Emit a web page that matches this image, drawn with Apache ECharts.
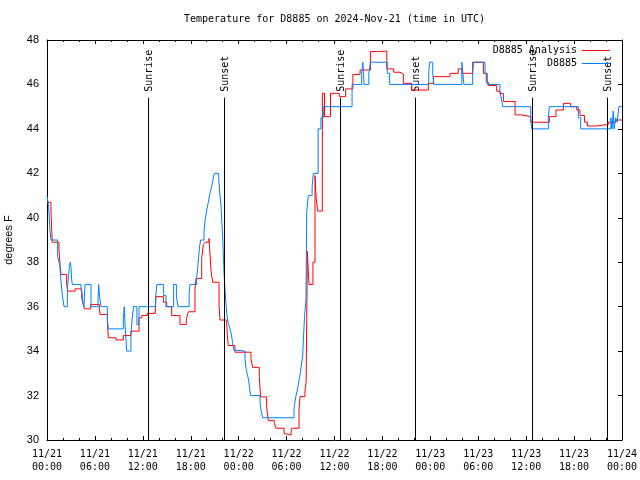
<!DOCTYPE html>
<html><head><meta charset="utf-8">
<script src="https://cdn.jsdelivr.net/npm/echarts@6/dist/echarts.min.js"></script>
<style>html,body{margin:0;padding:0;background:#fff}#c{width:640px;height:480px}</style>
</head><body><div id="c"></div>
<script>
// hours since 2024-11-21 00:00 UTC, temperature degrees F (value holds until next point)
const analysisObs = [[0,40.7],[0.5,40.25],[0.58,39.5],[0.67,38.9],[1.5,38.55],[1.63,37.9],[1.75,37.45],[2.46,37.0],[2.59,36.7],[3.5,36.8],[4.34,36.4],[4.55,36.1],[4.67,35.9],[5.47,36.1],[6.55,35.9],[6.64,35.65],[7.56,35.3],[7.68,34.6],[8.64,34.5],[9.56,34.7],[10.51,34.9],[11.52,35.5],[11.86,35.6],[12.56,35.7],[13.56,35.9],[13.65,36.45],[14.57,36.2],[14.99,36.0],[15.61,35.6],[16.65,35.2],[17.45,35.45],[17.7,35.77],[18.53,36.8],[18.66,37.27],[19.37,38.2],[19.58,38.8],[19.79,38.9],[20.29,39.07],[20.54,37.6],[20.75,37.1],[21.54,36.1],[21.66,35.4],[22.5,35.25],[22.6,34.6],[22.7,34.25],[23.54,33.95],[25.54,33.67],[25.75,33.27],[26.58,32.85],[26.75,31.94],[27.5,31.5],[27.71,30.87],[28.47,30.75],[28.67,30.53],[29.68,30.3],[29.8,30.22],[30.56,30.4],[30.64,30.53],[31.56,31.4],[31.68,31.95],[32.3,32.2],[32.45,32.6],[32.6,38.5],[32.8,37.0],[33.3,38.0],[33.56,41.9],[33.7,40.9],[33.9,40.3],[34.48,45.6],[34.75,44.55],[35.5,45.6],[36.6,45.45],[37.4,45.8],[38.3,46.45],[39.2,46.65],[40.5,47.48],[41.4,47.5],[42.55,46.7],[43.4,46.55],[44.2,46.47],[44.62,46.05],[45.66,45.75],[47.75,46.05],[48.38,46.35],[50.46,46.5],[51.5,46.7],[51.95,46.5],[53.3,47.0],[54.64,46.5],[55.0,46.1],[55.27,45.95],[56.31,45.7],[56.72,45.6],[57.14,45.23],[58.61,44.63],[59.44,44.55],[60.57,44.3],[62.9,44.55],[63.73,44.85],[64.66,45.15],[65.57,45.0],[66.33,44.85],[66.74,44.6],[67.3,44.3],[67.66,44.13],[68.75,44.2],[70.3,44.3],[71.2,44.4],[72,44.4]];

const stationObs = [[0,41.0],[0.21,40.5],[0.37,39.45],[0.5,39.0],[1.33,38.25],[1.5,38.0],[1.63,37.8],[1.71,37.3],[1.84,36.8],[1.96,36.4],[2.13,36.0],[2.55,36.8],[2.71,37.4],[2.8,37.8],[2.92,38.0],[3.0,37.8],[3.09,37.2],[3.17,37.0],[4.26,36.75],[4.38,36.6],[4.51,36.15],[4.63,36.0],[4.76,37.0],[5.51,36.0],[6.39,36.4],[6.47,37.0],[6.6,36.4],[6.76,36.0],[7.56,35.4],[7.68,35.0],[9.56,35.5],[9.68,36.0],[9.76,35.3],[9.89,34.55],[9.97,34.0],[10.51,34.7],[10.64,35.4],[10.85,36.0],[11.26,35.2],[11.52,36.0],[13.6,36.4],[13.75,37.0],[14.6,36.5],[14.9,36.0],[15.85,37.0],[16.2,36.5],[16.4,36.0],[17.8,36.6],[17.9,37.0],[18.74,37.3],[18.85,37.65],[18.99,38.25],[19.1,38.7],[19.24,39.0],[19.66,39.4],[19.8,39.9],[20.0,40.35],[20.2,40.7],[20.4,41.1],[20.55,41.3],[20.7,41.55],[20.83,41.8],[20.95,42.0],[21.5,41.8],[21.6,41.25],[21.79,40.5],[21.9,39.8],[22.0,39.15],[22.08,38.4],[22.15,37.65],[22.29,36.75],[22.4,36.2],[22.5,35.7],[22.7,35.25],[22.92,35.0],[23.1,34.72],[23.25,34.35],[23.4,34.05],[23.54,34.0],[24.79,33.67],[24.92,33.22],[25.1,32.92],[25.25,32.7],[25.34,32.4],[25.5,32.0],[26.67,31.75],[26.8,31.35],[27.0,31.0],[30.93,31.43],[31.18,32.0],[31.35,32.25],[31.6,32.77],[31.75,33.07],[31.85,33.37],[32.01,33.75],[32.1,34.5],[32.25,35.55],[32.43,36.3],[32.52,40.27],[32.72,41.0],[33.2,41.4],[33.35,42.0],[33.95,44.0],[34.3,44.5],[34.6,45.0],[38.2,46.0],[39.4,46.5],[39.55,47.0],[39.7,46.0],[40.3,46.5],[40.5,47.0],[42.6,46.5],[42.9,46.0],[47.8,46.5],[47.9,47.0],[48.3,46.5],[48.45,46.0],[51.95,47.0],[52.2,46.0],[53.3,46.5],[53.4,47.0],[54.85,46.5],[55.14,46.0],[56.72,45.65],[56.93,45.3],[57.06,45.0],[60.57,44.5],[60.69,44.0],[62.78,44.5],[62.9,45.0],[66.53,44.5],[66.83,44.0],[70.6,44.5],[70.75,44.0],[70.9,44.8],[71.0,44.0],[71.2,44.5],[71.4,44.3],[71.6,45.0],[72,45.0]];

const seriesNames = ['D8885 Analysis', 'D8885'];
const xTickLabels = ['11/21\n00:00','11/21\n06:00','11/21\n12:00','11/21\n18:00','11/22\n00:00','11/22\n06:00','11/22\n12:00','11/22\n18:00','11/23\n00:00','11/23\n06:00','11/23\n12:00','11/23\n18:00','11/24\n00:00'];
const sunNames = ['Sunrise','Sunset','Sunrise','Sunset','Sunrise','Sunset'];
const sunHours = [12.66, 22.18, 36.69, 46.1, 60.76, 70.15];
const titleText = 'Temperature for D8885 on 2024-Nov-21 (time in UTC)';

const mono = 'DejaVu Sans Mono';
const sans = 'Liberation Sans';
const lineTopTemp = 45.4;

const chart = echarts.init(document.getElementById('c'), null, {renderer: 'canvas'});
const blk = {color: '#000', width: 1};
const xBase = {
  type: 'value', min: 0, max: 72, interval: 6,
  axisLine: {show: true, onZero: false, lineStyle: blk},
  axisTick: {show: true, inside: true, length: 4, lineStyle: blk},
  minorTick: {show: true, splitNumber: 3, length: 2, lineStyle: blk},
  splitLine: {show: false}, minorSplitLine: {show: false}
};
const yBase = {
  type: 'value', min: 30, max: 48, interval: 2,
  axisLine: {show: true, onZero: false, lineStyle: blk},
  splitLine: {show: false}
};
const option = {
  animation: false,
  backgroundColor: '#fff',
  grid: {left: 47, right: 18, top: 40, bottom: 40, containLabel: false, outerBoundsMode: 'none'},
  legend: {
    orient: 'vertical', right: 25, top: 39, align: 'right',
    icon: 'rect', itemWidth: 28, itemHeight: 1, itemGap: 0,
    textStyle: {fontFamily: mono, fontSize: 10, color: '#000', lineHeight: 13},
    data: seriesNames
  },
  xAxis: [
    Object.assign({}, xBase, {position: 'bottom',
      axisLabel: {formatter: v => xTickLabels[Math.round(v / 6)], fontFamily: mono, fontSize: 10, color: '#000', lineHeight: 13, margin: 8}}),
    Object.assign({}, xBase, {position: 'top', axisLabel: {show: false}})
  ],
  yAxis: [
    Object.assign({}, yBase, {position: 'left',
      name: 'degrees F', nameLocation: 'middle', nameRotate: 90, nameGap: 33,
      nameTextStyle: {fontFamily: sans, fontSize: 11, color: '#000'},
      axisTick: {show: false},
      axisLabel: {fontFamily: sans, fontSize: 11, color: '#000', margin: 8}}),
    Object.assign({}, yBase, {position: 'right',
      axisTick: {show: true, inside: true, length: 4, lineStyle: blk},
      axisLabel: {show: false}})
  ],
  series: [
    {name: seriesNames[0], type: 'line', step: 'end', xAxisIndex: 0, yAxisIndex: 0,
     data: analysisObs, symbol: 'none', lineStyle: {color: '#ff0000', width: 1}, itemStyle: {color: '#ff0000'}, z: 2},
    {name: seriesNames[1], type: 'line', step: 'end', xAxisIndex: 0, yAxisIndex: 0,
     data: stationObs, symbol: 'none', lineStyle: {color: '#0080ff', width: 1}, itemStyle: {color: '#0080ff'}, z: 3,
     markLine: {symbol: 'none', silent: true, animation: false, label: {show: false},
       lineStyle: {color: '#000', width: 1, type: 'solid'},
       data: sunHours.map(h => [{coord: [h, lineTopTemp]}, {coord: [h, 30]}])}}
  ]
};
chart.setOption(option);

const graphics = [{
  type: 'text', x: 334.5, y: 19,
  style: {text: titleText, font: '10px "DejaVu Sans Mono"', fill: '#000', align: 'center', verticalAlign: 'middle', textAlign: 'center', textVerticalAlign: 'middle'}
}];
sunHours.forEach((h, i) => {
  const p = chart.convertToPixel({xAxisIndex: 0, yAxisIndex: 0}, [h, lineTopTemp]);
  graphics.push({
    type: 'text', x: p[0] + 1, y: p[1] - 6, rotation: Math.PI / 2,
    style: {text: sunNames[i], font: '10px "DejaVu Sans Mono"', fill: '#000', align: 'left', verticalAlign: 'middle', textAlign: 'left', textVerticalAlign: 'middle'}
  });
});
chart.setOption({graphic: graphics});
</script>
</body></html>
